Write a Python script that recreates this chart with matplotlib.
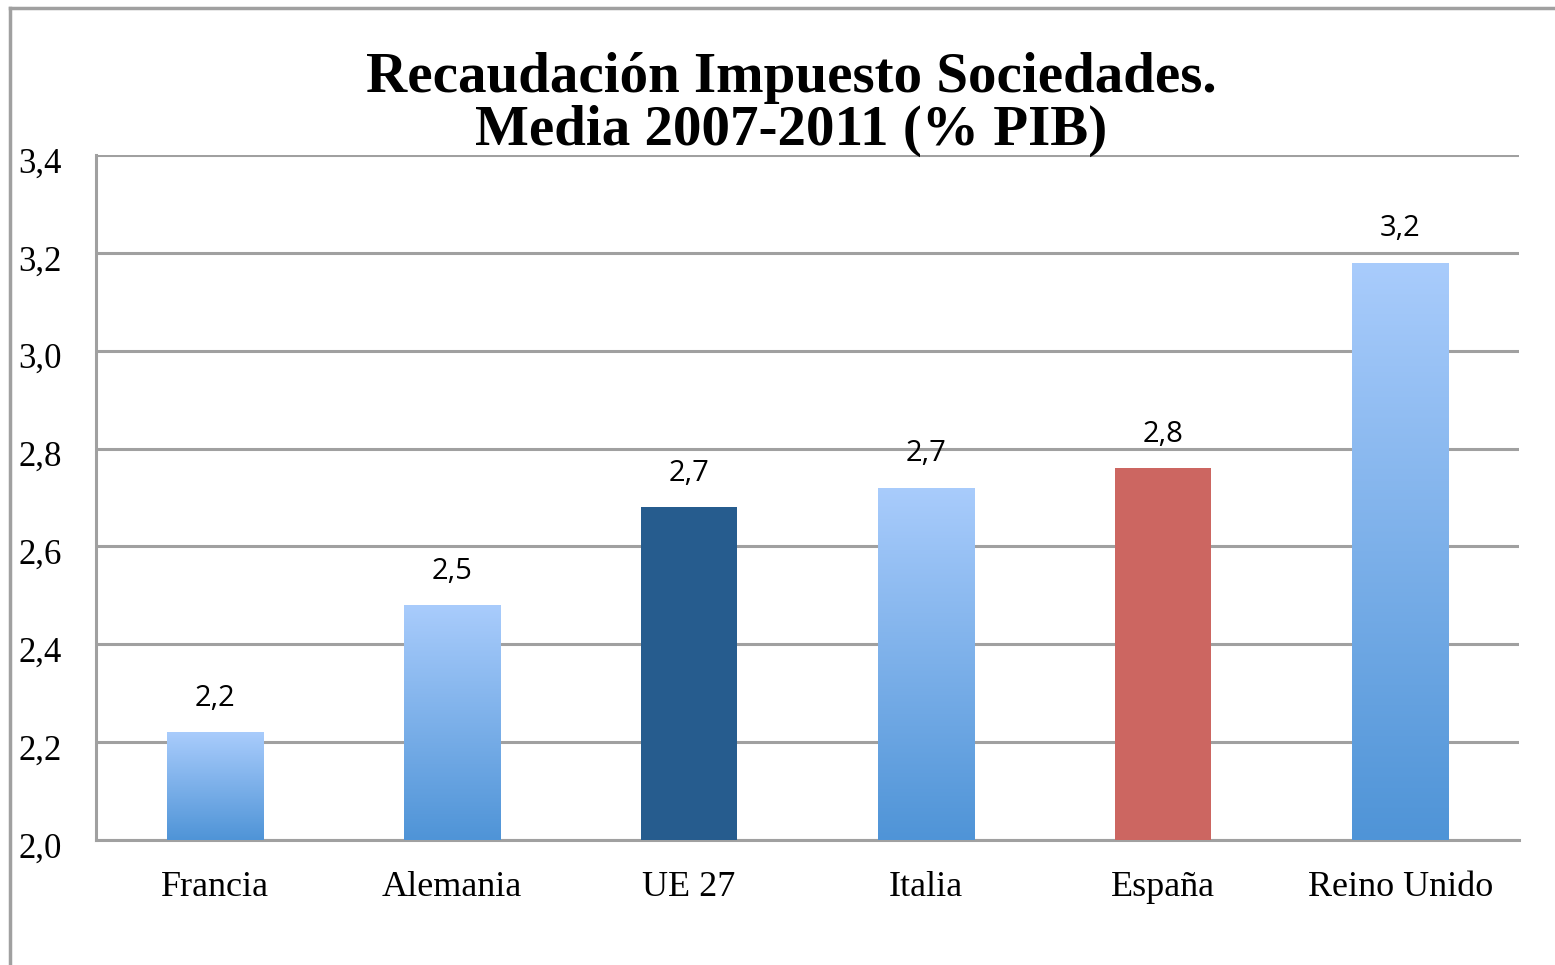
import matplotlib
matplotlib.use("Agg")
import matplotlib.pyplot as plt
import matplotlib.transforms as mtransforms
from matplotlib.lines import Line2D
import numpy as np

# Recaudación Impuesto Sociedades, media 2007-2011 (% PIB)
paises = ["Francia", "Alemania", "UE 27", "Italia", "España", "Reino Unido"]
valores = [2.22, 2.48, 2.68, 2.72, 2.76, 3.18]
etiquetas = ["2,2", "2,5", "2,7", "2,7", "2,8", "3,2"]
colores = ["grad", "grad", "#265c8e", "grad", "#cc6661", "grad"]

y_ticks = [2.0, 2.2, 2.4, 2.6, 2.8, 3.0, 3.2, 3.4]
y_labels = ["2,0", "2,2", "2,4", "2,6", "2,8", "3,0", "3,2", "3,4"]

GRID = "#a0a0a0"
SERIF = ["Liberation Serif", "DejaVu Serif"]
SANS = ["Open Sans", "DejaVu Sans"]

fig = plt.figure(figsize=(15.55, 9.65), dpi=100, facecolor="white")
ax = fig.add_axes([96 / 1555, 1 - 840 / 965, (1519 - 96) / 1555, (840 - 155) / 965])

x = np.arange(len(paises))
bars = ax.bar(x, np.array(valores) - 2.0, bottom=2.0, width=0.405,
              color=[c if c != "grad" else "none" for c in colores],
              linewidth=0, zorder=3)

# vertical gradient: light blue on top, darker blue at the bottom
grad = np.linspace(0, 1, 256).reshape(-1, 1)
cmap = matplotlib.colors.LinearSegmentedColormap.from_list("bar", ["#4f94d7", "#a9ccfc"])
for bar, c in zip(bars, colores):
    if c != "grad":
        continue
    x0, y0 = bar.get_x(), bar.get_y()
    w, h = bar.get_width(), bar.get_height()
    im = ax.imshow(grad, cmap=cmap, aspect="auto", origin="lower",
                   extent=[x0, x0 + w, y0, y0 + h], zorder=3)
    im.set_clip_path(bar)

for xi, v, lab in zip(x, valores, etiquetas):
    ax.annotate(lab, (xi, v), xytext=(0, 14), textcoords="offset points",
                ha="center", va="bottom", fontsize=21, family=SANS, color="black")

ax.set_xlim(-0.5, len(paises) - 0.5)
ax.set_ylim(2.0, 3.4)
ax.set_yticks(y_ticks)
ax.set_yticklabels(y_labels, family=SERIF, fontsize=25, ha="left")
ax.set_xticks(x)
ax.set_xticklabels(paises, family=SERIF, fontsize=26)
ax.tick_params(axis="y", length=0, pad=56)
ax.tick_params(axis="x", length=0, pad=22)

# y labels sit a little below their gridline in the original
shift = mtransforms.ScaledTranslation(0, -5 / 100, fig.dpi_scale_trans)
for t in ax.get_yticklabels():
    t.set_transform(t.get_transform() + shift)

ax.grid(axis="y", color=GRID, linewidth=2.2, zorder=1)
ax.set_axisbelow(True)
for s in ["top", "right"]:
    ax.spines[s].set_visible(False)
for s in ["left", "bottom"]:
    ax.spines[s].set_color(GRID)
    ax.spines[s].set_linewidth(2.2)

fig.text(791 / 1555, 1 - 52 / 965, "Recaudación Impuesto Sociedades.\nMedia 2007-2011 (% PIB)",
         ha="center", va="top", fontsize=41, fontweight="bold", family=SERIF,
         linespacing=1.02)

# outer frame (left and top edges only visible in the crop)
fig.add_artist(Line2D([10 / 1555, 10 / 1555], [0, 1 - 8 / 965], color=GRID, linewidth=2.5,
                      transform=fig.transFigure))
fig.add_artist(Line2D([10 / 1555, 1], [1 - 8 / 965, 1 - 8 / 965], color=GRID, linewidth=2.5,
                      transform=fig.transFigure))

fig.savefig("out.png", dpi=100, facecolor="white")
